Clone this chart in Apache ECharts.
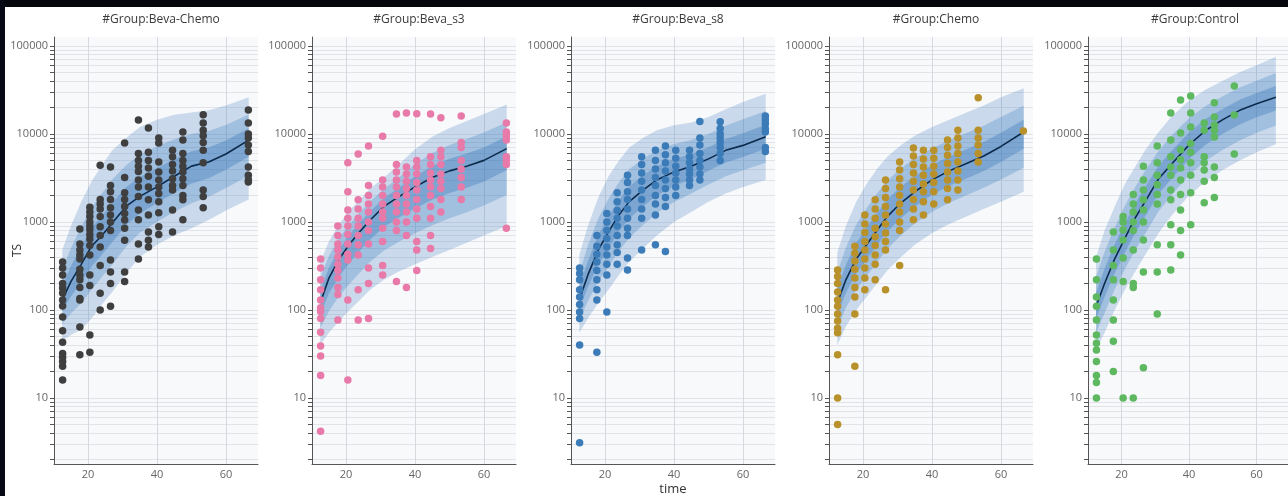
<!DOCTYPE html>
<html>
<head>
<meta charset="utf-8">
<script src="https://cdn.jsdelivr.net/npm/echarts@6/dist/echarts.min.js"></script>
<style>
html,body{margin:0;padding:0;background:#ffffff;}
#chart{width:1288px;height:496px;}
</style>
</head>
<body>
<div id="chart"></div>
<script>
// ---------------- DATA ----------------
const groupTitles = ['#Group:Beva-Chemo', '#Group:Beva_s3', '#Group:Beva_s8', '#Group:Chemo', '#Group:Control'];
const groupColors = ['#3f3f3f', '#e87aa9', '#3b7bb8', '#b8912a', '#5db85f'];
const xAxisTitle = 'time';
const yAxisTitle = 'TS';

const xTickLabels = [20, 40, 60];
const yTickLabels = [10, 100, 1000, 10000, 100000];
const yMinorMultipliers = [2, 3, 4, 5, 6, 7, 8, 9];

// observation times (columns of points)
const obsTimes = [12.6, 17.6, 20.5, 23.5, 26.5, 30.6, 34.6, 37.5, 40.5, 44.5, 47.5, 53.4, 66.5];

const bevaChemoTS = [
  [350, 300, 250, 200, 178, 156, 130, 111, 83, 58, 43, 32, 29, 26, 23, 16],
  [830, 560, 480, 420, 380, 290, 250, 220, 180, 135, 130, 64, 31],
  [1470, 1300, 1150, 1000, 900, 820, 720, 640, 540, 420, 250, 190, 52, 33],
  [4400, 1800, 1600, 1400, 1150, 880, 700, 520, 320, 155, 100],
  [4200, 2600, 2200, 1800, 1450, 1200, 1000, 800, 370, 270, 200, 110],
  [7900, 3200, 2150, 1800, 1500, 1250, 1050, 850, 620, 270, 210],
  [14400, 6000, 5000, 4300, 3750, 3000, 2500, 1950, 1370, 1060, 560, 380],
  [11700, 6200, 5000, 4100, 3300, 2500, 1780, 1200, 770, 620, 520],
  [9000, 7900, 4800, 3700, 3000, 2500, 2100, 1700, 1270, 880, 720],
  [6500, 5500, 4500, 3800, 3100, 2600, 2300, 1370, 770],
  [10500, 8500, 6000, 5000, 4300, 3700, 3100, 2600, 2000, 1780, 1060],
  [16500, 13300, 11000, 9500, 8000, 6500, 4700, 2300, 1950, 1450],
  [18700, 13300, 10000, 9000, 7500, 6300, 4200, 3400, 3000, 2850]
];
const bevaS3TS = [
  [380, 300, 220, 170, 130, 106, 96, 80, 56, 39, 30, 18, 4.2],
  [900, 700, 560, 480, 400, 330, 280, 230, 180, 150, 77],
  [4700, 2200, 1370, 1100, 900, 720, 560, 430, 370, 130, 16],
  [5900, 1780, 1400, 1100, 900, 700, 550, 420, 170, 77],
  [7300, 2600, 2000, 1600, 1300, 1000, 800, 560, 300, 200, 80],
  [9400, 3000, 2500, 2000, 1600, 1300, 1100, 850, 600, 320, 250],
  [16800, 4500, 3700, 3000, 2500, 2000, 1600, 1300, 1000, 800, 210],
  [17300, 4200, 3500, 2900, 2400, 2000, 1600, 1300, 1000, 700, 180],
  [16900, 5000, 4200, 3500, 2800, 2300, 1800, 1400, 1100, 600, 480, 280],
  [16800, 5500, 4500, 3600, 3000, 2500, 2000, 1500, 1100, 700, 500],
  [15200, 6500, 5500, 4500, 3500, 2900, 2400, 1800, 1300],
  [16000, 8000, 7000, 5000, 4000, 3200, 2500, 1800],
  [13300, 10500, 9500, 8500, 5500, 5000, 4500, 850]
];
const bevaS8TS = [
  [300, 260, 220, 170, 140, 115, 95, 80, 40, 3.1],
  [700, 530, 430, 350, 280, 220, 170, 130, 33],
  [1250, 1000, 800, 650, 520, 420, 330, 250, 95],
  [2150, 1700, 1350, 1100, 900, 700, 550, 450, 330],
  [3400, 2800, 2200, 1800, 1400, 1100, 850, 700, 390, 285],
  [5500, 4500, 3600, 2900, 2300, 1800, 1400, 1100, 480],
  [6500, 5000, 4000, 3200, 2600, 2000, 1600, 1200, 550],
  [7300, 5800, 4700, 3800, 3000, 2400, 1900, 1500, 460],
  [6500, 5300, 4300, 3600, 3000, 2500, 2000],
  [6500, 5500, 4700, 4000, 3500, 3000, 2600],
  [13800, 9000, 7500, 6000, 5000, 4200, 3500, 3000],
  [13700, 11500, 10000, 9000, 8000, 7000, 6000, 5000],
  [16000, 14500, 13000, 11500, 10500, 7000, 6300]
];
const chemoTS = [
  [285, 240, 200, 160, 130, 110, 90, 75, 62, 55, 31, 10, 5],
  [530, 440, 360, 290, 230, 180, 140, 90, 23],
  [1200, 950, 760, 600, 480, 380, 300, 230, 170],
  [1780, 1400, 1100, 850, 680, 540, 420, 330, 220],
  [3000, 2400, 1900, 1500, 1200, 950, 750, 600, 480, 170],
  [4800, 3900, 3100, 2500, 2000, 1600, 1300, 1000, 800, 320],
  [6900, 5600, 4500, 3600, 2900, 2300, 1800, 1400, 1060],
  [6500, 5200, 4200, 3400, 2700, 2200, 1700, 1200],
  [6500, 5300, 4300, 3500, 2800, 2200, 1600],
  [8500, 7000, 5700, 4600, 3700, 3000, 2400, 1780],
  [11000, 9000, 7300, 6000, 4800, 3800, 3000, 2300],
  [25700, 11000, 9000, 7500, 6000, 4800],
  [10800]
];
const controlTS = [
  [380, 220, 140, 110, 77, 52, 42, 35, 26, 18, 15, 10],
  [770, 480, 320, 220, 130, 77, 44, 20],
  [1150, 1000, 810, 625, 390, 210, 10],
  [2050, 1600, 1300, 1000, 800, 480, 200, 180, 10],
  [4300, 3000, 2300, 1780, 1370, 1000, 625, 270, 22],
  [7300, 4700, 3400, 2650, 2050, 1600, 550, 270, 90],
  [17300, 8500, 5500, 4200, 3400, 2300, 1780, 930, 550, 285],
  [24300, 10200, 6600, 5100, 4100, 3000, 2050, 1370, 800, 420],
  [27000, 17300, 12000, 7800, 6200, 4700, 3400, 2150, 930],
  [13300, 11000, 5500, 4700, 3900, 2900, 1650],
  [22500, 15600, 12600, 11000, 9200, 4200, 3200, 1900],
  [35000, 16400, 5900],
  []
];

// prediction bands (time grid, median, inner / middle / outer intervals)
const bandTimes = [12.5, 15, 18, 21, 24, 27, 31, 35, 40, 45, 50, 55, 60, 66.6];
const controlBandTimes = [12.5, 15, 18, 21, 24, 27, 31, 35, 40, 45, 50, 55, 60, 65.7];

const bevaChemoMedian = [130, 210, 330, 530, 700, 970, 1500, 1950, 2500, 3300, 4300, 4800, 5900, 8500];
const bevaChemoLo3 = [45, 52, 60, 80, 115, 160, 260, 400, 550, 700, 850, 1050, 1350, 1800];
const bevaChemoLo2 = [69, 91, 119, 170, 237, 329, 524, 753, 1007, 1303, 1625, 1928, 2432, 3350];
const bevaChemoLo1 = [97, 142, 205, 312, 423, 586, 918, 1250, 1637, 2138, 2729, 3133, 3908, 5495];
const bevaChemoHi1 = [187, 316, 522, 853, 1170, 1652, 2477, 3243, 4093, 5176, 6368, 7000, 8414, 11610];
const bevaChemoHi2 = [284, 502, 883, 1469, 2109, 3041, 4395, 5794, 7178, 8670, 9977, 10790, 12650, 16630];
const bevaChemoHi3 = [480, 900, 1700, 2900, 4400, 6500, 9000, 12000, 14500, 16500, 17500, 18500, 21000, 26000];

const bevaS3Median = [120, 230, 380, 560, 780, 1050, 1500, 1900, 2500, 3200, 3800, 4300, 5000, 6800];
const bevaS3Lo3 = [40, 55, 75, 100, 130, 170, 220, 270, 330, 400, 480, 580, 700, 900];
const bevaS3Lo2 = [62, 97, 144, 199, 266, 352, 474, 589, 743, 918, 1099, 1291, 1538, 2023];
const bevaS3Lo1 = [88, 154, 242, 346, 472, 631, 875, 1102, 1419, 1786, 2128, 2449, 2884, 3864];
const bevaS3Hi1 = [162, 301, 491, 716, 986, 1324, 1854, 2404, 3296, 4315, 5212, 5984, 7015, 9397];
const bevaS3Hi2 = [228, 409, 659, 948, 1288, 1722, 2360, 3141, 4519, 6067, 7464, 8730, 10350, 13550];
const bevaS3Hi3 = [350, 600, 950, 1350, 1800, 2400, 3200, 4400, 6700, 9300, 11700, 14000, 16800, 21500];

const bevaS8Median = [130, 250, 480, 770, 1200, 1700, 2300, 3000, 3700, 4300, 5200, 6500, 7400, 9300];
const bevaS8Lo3 = [55, 80, 120, 170, 250, 350, 500, 700, 1000, 1300, 1700, 2100, 2500, 3000];
const bevaS8Lo2 = [78, 126, 209, 310, 468, 658, 920, 1253, 1687, 2099, 2655, 3296, 3855, 4710];
const bevaS8Lo1 = [102, 182, 325, 504, 773, 1091, 1500, 1995, 2564, 3076, 3802, 4742, 5458, 6776];
const bevaS8Hi1 = [181, 358, 705, 1156, 1791, 2523, 3373, 4315, 5200, 5916, 7063, 8770, 10160, 12700];
const bevaS8Hi2 = [262, 540, 1096, 1845, 2825, 3972, 5212, 6531, 7674, 8531, 10000, 12390, 14620, 18200];
const bevaS8Hi3 = [420, 900, 1900, 3300, 5000, 7000, 9000, 11000, 12500, 13500, 15500, 19000, 23000, 28500];

const chemoMedian = [120, 220, 380, 550, 800, 1150, 1650, 2200, 3000, 3800, 4600, 5600, 7200, 10500];
const chemoLo3 = [40, 65, 100, 140, 200, 280, 400, 550, 750, 950, 1150, 1400, 1700, 2200];
const chemoLo2 = [62, 106, 171, 242, 348, 493, 705, 957, 1306, 1656, 2004, 2438, 3027, 4111];
const chemoLo1 = [88, 156, 262, 375, 542, 774, 1109, 1489, 2032, 2576, 3119, 3793, 4797, 6776];
const chemoHi1 = [174, 326, 578, 857, 1256, 1782, 2518, 3311, 4426, 5534, 6683, 8110, 10300, 14450];
const chemoHi2 = [265, 512, 933, 1429, 2099, 2938, 4093, 5297, 6887, 8492, 10260, 12360, 15560, 20890];
const chemoHi3 = [450, 900, 1700, 2700, 4000, 5500, 7500, 9500, 12000, 14500, 17500, 21000, 26000, 33000];

const controlMedian = [110, 200, 380, 650, 1100, 1700, 3100, 4600, 7500, 11000, 14500, 18500, 22000, 26000];
const controlLo3 = [35, 55, 100, 170, 270, 420, 750, 1200, 2000, 2900, 3900, 5000, 6200, 7600];
const controlLo2 = [55, 92, 171, 290, 473, 735, 1321, 2056, 3396, 4943, 6592, 8433, 10280, 12450];
const controlLo1 = [80, 139, 262, 447, 741, 1148, 2084, 3155, 5176, 7568, 10020, 12820, 15420, 18410];
const controlHi1 = [158, 295, 558, 968, 1600, 2472, 4355, 6516, 10370, 14830, 19230, 24430, 29110, 34990];
const controlHi2 = [239, 459, 867, 1528, 2455, 3802, 6442, 9727, 15070, 20840, 26670, 33570, 40180, 49090];
const controlHi3 = [400, 800, 1500, 2700, 4200, 6500, 10500, 16000, 24000, 32000, 40000, 50000, 60000, 75000];

// ---------------- BUILD ----------------
const panels = [
  {obs: bevaChemoTS, t: bandTimes, m: bevaChemoMedian, lo: [bevaChemoLo3, bevaChemoLo2, bevaChemoLo1], hi: [bevaChemoHi3, bevaChemoHi2, bevaChemoHi1]},
  {obs: bevaS3TS, t: bandTimes, m: bevaS3Median, lo: [bevaS3Lo3, bevaS3Lo2, bevaS3Lo1], hi: [bevaS3Hi3, bevaS3Hi2, bevaS3Hi1]},
  {obs: bevaS8TS, t: bandTimes, m: bevaS8Median, lo: [bevaS8Lo3, bevaS8Lo2, bevaS8Lo1], hi: [bevaS8Hi3, bevaS8Hi2, bevaS8Hi1]},
  {obs: chemoTS, t: bandTimes, m: chemoMedian, lo: [chemoLo3, chemoLo2, chemoLo1], hi: [chemoHi3, chemoHi2, chemoHi1]},
  {obs: controlTS, t: controlBandTimes, m: controlMedian, lo: [controlLo3, controlLo2, controlLo1], hi: [controlHi3, controlHi2, controlHi1]}
];

const gridLefts = [54, 312, 571, 829, 1088];
const gridWidth = 204;
const FONT = '"Open Sans", "Noto Sans", sans-serif';

const yAllTicks = [];
for (let e = 0; e <= 5; e++) {
  const p = Math.pow(10, e);
  yAllTicks.push(p);
  if (e < 5) yMinorMultipliers.forEach(k => yAllTicks.push(k * p));
}

// outer, middle, inner band fills (overlapping)
const bandFills = ['rgba(40,110,180,0.22)', 'rgba(40,110,180,0.25)', 'rgba(40,110,180,0.30)'];

const grids = [], xAxes = [], yAxes = [], series = [], titles = [];
panels.forEach((p, i) => {
  grids.push({left: gridLefts[i], width: gridWidth, top: 37, bottom: 32, show: true, backgroundColor: '#f8f9fb', borderWidth: 0, containLabel: false});
  titles.push({text: groupTitles[i], left: gridLefts[i] + gridWidth / 2, top: 9, textAlign: 'center',
    textStyle: {fontFamily: FONT, fontSize: 12, fontWeight: 'normal', color: '#3a3a3a'}});
  xAxes.push({
    type: 'value', gridIndex: i, min: 10.1, max: 69.3,
    axisLine: {show: true, onZero: false, lineStyle: {color: '#555', width: 1}},
    axisTick: {show: false, customValues: xTickLabels},
    axisLabel: {customValues: xTickLabels, color: '#666', fontFamily: FONT, fontSize: 11, margin: 5},
    splitLine: {show: true, lineStyle: {color: '#d8d9df', width: 1}}
  });
  yAxes.push({
    type: 'log', logBase: 10, gridIndex: i, min: 1.78, max: 126000,
    name: i === 0 ? yAxisTitle : '', nameLocation: 'middle', nameGap: 30, nameRotate: 90, nameMoveOverlap: false,
    nameTextStyle: {fontFamily: FONT, fontSize: 12, color: '#333'},
    axisLine: {show: true, lineStyle: {color: '#555', width: 1}},
    axisTick: {show: true, inside: false, length: 4, customValues: yAllTicks, lineStyle: {color: '#555'}},
    axisLabel: {customValues: yTickLabels, formatter: v => String(v), color: '#666', fontFamily: FONT, fontSize: 11, margin: 6},
    splitLine: {show: true, lineStyle: {color: '#e2e3e9', width: 1}}
  });

  // prediction bands drawn through the axes' scales
  series.push({
    type: 'custom', xAxisIndex: i, yAxisIndex: i, silent: true, clip: true, z: 2,
    data: [[p.t[0], p.m[0]]],
    renderItem: (params, api) => {
      const children = [];
      for (let j = 0; j < 3; j++) {
        const hi = p.hi[j], lo = p.lo[j];
        const up = p.t.map((t, k) => api.coord([t, hi[k]]));
        const dn = p.t.map((t, k) => api.coord([t, lo[k]])).reverse();
        children.push({type: 'polygon', shape: {points: up.concat(dn)}, style: {fill: bandFills[j]}});
      }
      return {type: 'group', children: children};
    }
  });
  // median
  series.push({
    type: 'line', xAxisIndex: i, yAxisIndex: i, silent: true, symbol: 'none', smooth: false,
    lineStyle: {color: '#0b2a4c', width: 1.6},
    data: p.t.map((t, k) => [t, p.m[k]]), z: 3
  });
  // observations
  const pts = [];
  p.obs.forEach((col, c) => col.forEach(v => pts.push([obsTimes[c], v])));
  series.push({
    type: 'scatter', xAxisIndex: i, yAxisIndex: i, silent: true, symbolSize: 7.5,
    itemStyle: {color: groupColors[i], opacity: 1}, data: pts, z: 4
  });
});

const chart = echarts.init(document.getElementById('chart'), null, {renderer: 'canvas'});
chart.setOption({
  animation: false,
  backgroundColor: '#ffffff',
  title: titles,
  grid: grids,
  xAxis: xAxes,
  yAxis: yAxes,
  series: series,
  graphic: [
    {type: 'rect', left: 0, top: 0, shape: {width: 1288, height: 7}, style: {fill: '#05070d'}, z: 100},
    {type: 'rect', left: 0, top: 0, shape: {width: 5, height: 496}, style: {fill: '#070a14'}, z: 100},
    {type: 'text', x: gridLefts[2] + gridWidth / 2, y: 489,
      style: {text: xAxisTitle, fill: '#333', font: '13px "Open Sans", "Noto Sans", sans-serif', textAlign: 'center', textVerticalAlign: 'middle'}, z: 100}
  ]
});
</script>
</body>
</html>
